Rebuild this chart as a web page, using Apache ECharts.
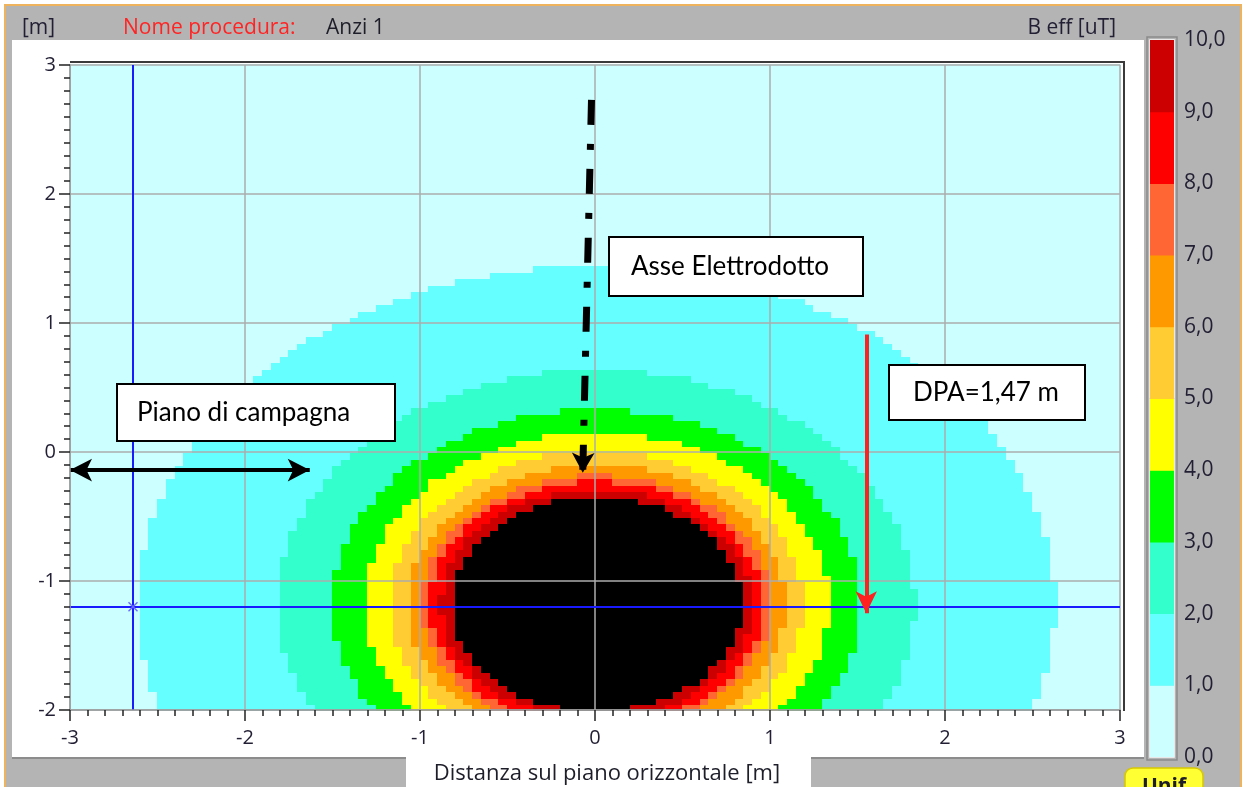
<!DOCTYPE html>
<html>
<head>
<meta charset="utf-8">
<script src="https://cdn.jsdelivr.net/npm/echarts@6/dist/echarts.min.js"></script>
<style>
  html, body { margin: 0; padding: 0; background: #ffffff; }
  #chart { width: 1246px; height: 787px; }
</style>
</head>
<body>
<div id="chart"></div>
<script>
// Iso-lines of B eff [uT] around the buried line: level and radius (m) from the cable axis
const isoLevels = [1, 2, 3, 4, 5, 6, 7, 8, 9, 10];
const isoRadius = [2.62, 1.82, 1.51, 1.33, 1.18, 1.08, 1.00, 0.95, 0.89, 0.83];
// Cable axis position [x, y] in metres
const cableAxis = [0.01, -1.17];
// Calculation grid step (m) and section extent
const cellStep = 0.05;
const xRange = [-3, 3];
const yRange = [-2, 3];
// Colour of each band: 0-1, 1-2, ..., 9-10, above 10
const bandColors = ['#CCFFFF', '#66FFFF', '#33FFCC', '#00FF00', '#FFFF00',
                    '#FFCC33', '#FF9900', '#FF6633', '#FF0000', '#CC0000', '#000000'];
// Colour scale bands (lower bound of each 1 uT band)
const scaleLow = [0, 1, 2, 3, 4, 5, 6, 7, 8, 9];

// Reference lines
const groundLevel = -1.2;      // horizontal blue line
const verticalProbe = -2.64;   // vertical blue line
const dpaX = 1.55;             // DPA arrow position
const dpaTop = 0.91, dpaBottom = -1.25;
const axisArrowTop = [-0.02, 2.73], axisArrowTip = [-0.07, -0.16];
const groundArrowY = -0.14, groundArrowEnds = [-3.0, -1.63];

// Build the cell table: each cell takes the band given by the iso-lines enclosing it
const cells = [];
const nx = Math.round((xRange[1] - xRange[0]) / cellStep);
const ny = Math.round((yRange[1] - yRange[0]) / cellStep);
for (let i = 0; i < nx; i++) {
  const cx = xRange[0] + (i + 0.5) * cellStep;
  for (let j = 0; j < ny; j++) {
    const cy = yRange[0] + (j + 0.5) * cellStep;
    const d = Math.hypot(cx - cableAxis[0], cy - cableAxis[1]);
    let band = 0;
    for (let k = 0; k < isoLevels.length; k++) if (d < isoRadius[k]) band = k + 1;
    cells.push([cx, cy, band]);
  }
}
const scaleData = scaleLow.map((lo, k) => [lo, lo + 1, k]);

const uiFont = 'Open Sans';
const noteFont = 'Lato';
const labelColor = '#221e33';

function noteBox(x, y, w, h, text, tx) {
  return [
    { type: 'rect', z: 60, silent: true, shape: { x: x, y: y, width: w, height: h },
      style: { fill: '#ffffff', stroke: '#000000', lineWidth: 2 } },
    { type: 'text', z: 61, silent: true, x: tx, y: y + h / 2,
      style: { text: text, font: '26px ' + noteFont, fill: '#000000', verticalAlign: 'middle' } }
  ];
}

const chart = echarts.init(document.getElementById('chart'), null, { renderer: 'canvas' });

chart.setOption({
  animation: false,
  backgroundColor: '#ffffff',
  grid: [
    { left: 70, top: 65, width: 1050, height: 645, outerBoundsMode: 'none', containLabel: false },
    { left: 1150, top: 40, width: 24, height: 717, outerBoundsMode: 'none', containLabel: false }
  ],
  xAxis: [
    {
      type: 'value', gridIndex: 0, min: xRange[0], max: xRange[1], interval: 1, z: 5,
      axisLine: { show: true, onZero: false, lineStyle: { color: '#9a9a9a', width: 1.5 } },
      axisTick: { show: true, length: 11, lineStyle: { color: '#222222', width: 1.5 } },
      minorTick: { show: true, splitNumber: 10, length: 6, lineStyle: { color: '#222222', width: 1.5 } },
      splitLine: { show: true, lineStyle: { color: '#adadad', width: 1.5 } },
      axisLabel: { fontSize: 20, fontFamily: uiFont, color: labelColor, margin: 18 }
    },
    { type: 'value', gridIndex: 1, min: 0, max: 1, show: false }
  ],
  yAxis: [
    {
      type: 'value', gridIndex: 0, min: yRange[0], max: yRange[1], interval: 1, z: 5,
      axisLine: { show: true, onZero: false, lineStyle: { color: '#9a9a9a', width: 1.5 } },
      axisTick: { show: true, length: 11, lineStyle: { color: '#222222', width: 1.5 } },
      minorTick: { show: true, splitNumber: 10, length: 6, lineStyle: { color: '#222222', width: 1.5 } },
      splitLine: { show: true, lineStyle: { color: '#adadad', width: 1.5 } },
      axisLabel: { fontSize: 20, fontFamily: uiFont, color: labelColor, margin: 14 }
    },
    {
      type: 'value', gridIndex: 1, min: 0, max: 10, interval: 1, position: 'right',
      axisLine: { show: false }, axisTick: { show: false }, splitLine: { show: false },
      axisLabel: {
        fontSize: 21, fontFamily: uiFont, color: labelColor, margin: 10,
        formatter: v => v.toFixed(1).replace('.', ',')
      }
    }
  ],
  series: [
    {
      // Field map cells
      type: 'custom', xAxisIndex: 0, yAxisIndex: 0, clip: true, silent: true, z: 2,
      data: cells,
      renderItem: (params, api) => {
        const x = api.value(0), y = api.value(1), h = cellStep / 2;
        const a = api.coord([x - h, y + h]);
        const b = api.coord([x + h, y - h]);
        const x0 = Math.floor(a[0]), y0 = Math.floor(a[1]);
        const x1 = Math.ceil(b[0]), y1 = Math.ceil(b[1]);
        return {
          type: 'rect',
          shape: { x: x0, y: y0, width: x1 - x0 + 1, height: y1 - y0 + 1 },
          style: { fill: bandColors[api.value(2)] }
        };
      }
    },
    {
      // Colour scale
      type: 'custom', xAxisIndex: 1, yAxisIndex: 1, silent: true,
      data: scaleData,
      renderItem: (params, api) => {
        const a = api.coord([0, api.value(1)]);
        const b = api.coord([1, api.value(0)]);
        return {
          type: 'rect',
          shape: { x: a[0], y: a[1], width: b[0] - a[0], height: b[1] - a[1] + 0.5 },
          style: { fill: bandColors[api.value(2)] }
        };
      }
    },
    {
      // Reference lines and arrows
      type: 'line', xAxisIndex: 0, yAxisIndex: 0, data: [], z: 10, silent: true,
      markLine: {
        silent: true, animation: false, precision: 4, label: { show: false },
        emphasis: { disabled: true },
        data: [
          [
            { coord: [verticalProbe, yRange[0]], symbol: 'none', lineStyle: { color: '#1a1aff', width: 2, type: 'solid' } },
            { coord: [verticalProbe, yRange[1]], symbol: 'none' }
          ],
          [
            { coord: [xRange[0], groundLevel], symbol: 'none', lineStyle: { color: '#1a1aff', width: 2, type: 'solid' } },
            { coord: [xRange[1], groundLevel], symbol: 'none' }
          ],
          [
            { coord: [groundArrowEnds[0], groundArrowY], symbol: 'arrow', symbolSize: [17, 22],
              lineStyle: { color: '#000000', width: 4, type: 'solid' }, itemStyle: { color: '#000000' } },
            { coord: [groundArrowEnds[1], groundArrowY], symbol: 'arrow', symbolSize: [17, 22], itemStyle: { color: '#000000' } }
          ],
          [
            { coord: axisArrowTop, symbol: 'none',
              lineStyle: { color: '#000000', width: 7, type: [25, 19, 6, 19], cap: 'butt' }, itemStyle: { color: '#000000' } },
            { coord: axisArrowTip, symbol: 'arrow', symbolSize: [17, 20], itemStyle: { color: '#000000' } }
          ],
          [
            { coord: [dpaX, dpaTop], symbol: 'none',
              lineStyle: { color: '#FF2020', width: 4, type: 'solid' }, itemStyle: { color: '#FF2020' } },
            { coord: [dpaX, dpaBottom], symbol: 'arrow', symbolSize: [16, 22], itemStyle: { color: '#FF2020' } }
          ]
        ]
      },
      markPoint: {
        silent: true, animation: false, label: { show: false },
        symbol: 'path://M0,1 L1,0 L5,4 L9,0 L10,1 L6,5 L10,9 L9,10 L5,6 L1,10 L0,9 L4,5 Z',
        symbolSize: 10,
        itemStyle: { color: '#6a6aff' },
        data: [{ coord: [verticalProbe, groundLevel] }]
      }
    }
  ],
  graphic: [
    // window frame and panels
    { type: 'rect', z: -20, silent: true, shape: { x: 5, y: 5, width: 1236, height: 800 },
      style: { fill: '#b4b4b4', stroke: '#efb35e', lineWidth: 2 } },
    { type: 'rect', z: -19, silent: true, shape: { x: 12, y: 40, width: 1132, height: 718 },
      style: { fill: '#ffffff' } },
    { type: 'rect', z: -19, silent: true, shape: { x: 406, y: 750, width: 405, height: 40 },
      style: { fill: '#ffffff' } },
    { type: 'line', z: -18, silent: true, shape: { x1: 12, y1: 758, x2: 406, y2: 758 },
      style: { stroke: '#8c8c8c', lineWidth: 2 } },
    { type: 'line', z: -18, silent: true, shape: { x1: 811, y1: 758, x2: 1144, y2: 758 },
      style: { stroke: '#8c8c8c', lineWidth: 2 } },
    // plot frame (top and right)
    { type: 'polyline', z: 20, silent: true,
      shape: { points: [[70, 62], [1124, 62], [1124, 711]] },
      style: { stroke: '#3a3a3a', lineWidth: 2, fill: null } },
    // colour scale bevel
    { type: 'rect', z: 20, silent: true, shape: { x: 1147, y: 37, width: 30, height: 723 },
      style: { fill: null, stroke: '#8a8a8a', lineWidth: 1.5 } },
    { type: 'rect', z: 20, silent: true, shape: { x: 1149.5, y: 39.5, width: 25, height: 718 },
      style: { fill: null, stroke: '#e8e8e8', lineWidth: 1 } },
    // header texts
    { type: 'text', z: 30, x: 22, y: 28, style: { text: '[m]', font: '21px ' + uiFont, fill: labelColor, verticalAlign: 'middle' } },
    { type: 'text', z: 30, x: 123, y: 28, style: { text: 'Nome procedura:', font: '21px ' + uiFont, fill: '#ff2424', verticalAlign: 'middle' } },
    { type: 'text', z: 30, x: 326, y: 28, style: { text: 'Anzi 1', font: '21px ' + uiFont, fill: '#1e1e2a', verticalAlign: 'middle' } },
    { type: 'text', z: 30, x: 1116, y: 28, style: { text: 'B eff [uT]', font: '21px ' + uiFont, fill: labelColor, align: 'right', verticalAlign: 'middle' } },
    // x axis title
    { type: 'text', z: 30, x: 607, y: 774, style: { text: 'Distanza sul piano orizzontale [m]', font: '22px ' + uiFont, fill: '#1e1e2a', align: 'center', verticalAlign: 'middle' } },
    // "Unif" tab
    { type: 'rect', z: 30, silent: true, shape: { x: 1125, y: 768, width: 78, height: 34, r: 8 },
      style: { fill: '#ffff33', stroke: '#d8c800', lineWidth: 1.5 } },
    { type: 'text', z: 31, x: 1164, y: 777, style: { text: 'Unif', font: 'bold 21px ' + uiFont, fill: '#1e1e2a', align: 'center', verticalAlign: 'top' } }
  ]
    .concat(noteBox(609, 237, 254, 59, 'Asse Elettrodotto', 631))
    .concat(noteBox(117, 384, 278, 57, 'Piano di campagna', 137))
    .concat(noteBox(889, 365, 196, 55, 'DPA=1,47 m', 913))
});
</script>
</body>
</html>
